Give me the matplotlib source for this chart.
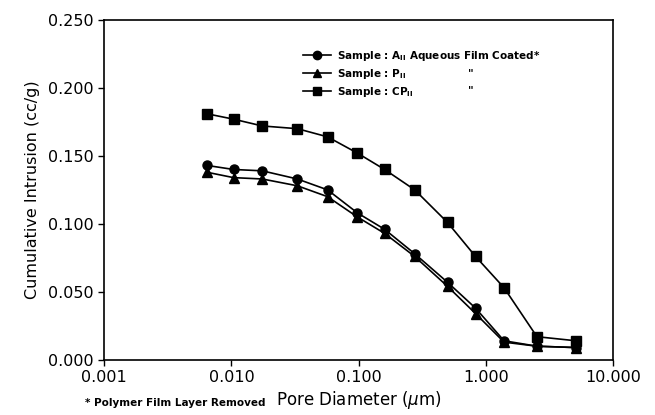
import matplotlib
matplotlib.use("Agg")
import matplotlib.pyplot as plt
from matplotlib.lines import Line2D

diameter = [0.0064, 0.0104, 0.0175, 0.033, 0.057, 0.098, 0.160, 0.276, 0.50, 0.83, 1.39, 2.52, 5.1]
sample_a = [0.143, 0.140, 0.139, 0.133, 0.125, 0.108, 0.096, 0.078, 0.057, 0.038, 0.014, 0.010, 0.009]
sample_p = [0.138, 0.134, 0.133, 0.128, 0.120, 0.105, 0.093, 0.076, 0.054, 0.034, 0.013, 0.010, 0.009]
sample_cp = [0.181, 0.177, 0.172, 0.170, 0.164, 0.152, 0.140, 0.125, 0.101, 0.076, 0.053, 0.017, 0.014]

labels = ["Sample : A$_{\\mathbf{II}}$ Aqueous Film Coated*",
          "Sample : P$_{\\mathbf{II}}$",
          "Sample : CP$_{\\mathbf{II}}$"]
xticks = [0.001, 0.01, 0.1, 1.0, 10.0]
xticklabels = ["0.001", "0.010", "0.100", "1.000", "10.000"]
yticks = [0.0, 0.05, 0.10, 0.15, 0.20, 0.25]

plt.rcParams['font.family'] = ['DejaVu Sans']
fig = plt.figure(figsize=(6.55, 4.15), dpi=100)
ax = fig.add_axes([0.159, 0.133, 0.777, 0.819])

ax.plot(diameter, sample_a, color='black', lw=1.2, marker='o', ms=6.5)
ax.plot(diameter, sample_p, color='black', lw=1.2, marker='^', ms=6.5)
ax.plot(diameter, sample_cp, color='black', lw=1.2, marker='s', ms=6.5)

ax.set_xscale('log')
ax.set_xlim(0.001, 10.0)
ax.set_ylim(0.0, 0.25)
ax.set_xticks(xticks)
ax.set_xticklabels(xticklabels)
ax.minorticks_off()
ax.set_yticks(yticks)
ax.set_yticklabels([f"{v:.3f}" for v in yticks])
ax.tick_params(labelsize=11.5, direction='out', length=4, width=1)
for s in ax.spines.values():
    s.set_linewidth(1.2)

ax.set_xlabel("Pore Diameter ($\\mu$m)", fontsize=12, labelpad=3)
ax.set_ylabel("Cumulative Intrusion (cc/g)", fontsize=11.5, labelpad=6)

handles = [Line2D([], [], color='black', lw=1.2, marker='o', ms=6),
           Line2D([], [], color='black', lw=1.2, marker='^', ms=6),
           Line2D([], [], color='black', lw=1.2, marker='s', ms=6)]
leg = ax.legend(handles, labels, loc='upper left', bbox_to_anchor=(0.39, 0.915),
                frameon=False, handlelength=2.7, handletextpad=0.6,
                labelspacing=0.4, borderpad=0, borderaxespad=0,
                prop={'weight': 'bold', 'size': 7.5})
ax.text(0.715, 0.843, '"', transform=ax.transAxes, fontsize=8, fontweight='bold', va='center')
ax.text(0.715, 0.793, '"', transform=ax.transAxes, fontsize=8, fontweight='bold', va='center')

fig.text(0.13, 0.022, "* Polymer Film Layer Removed", fontsize=7.5, fontweight='bold')

fig.savefig("out.png", dpi=100)
